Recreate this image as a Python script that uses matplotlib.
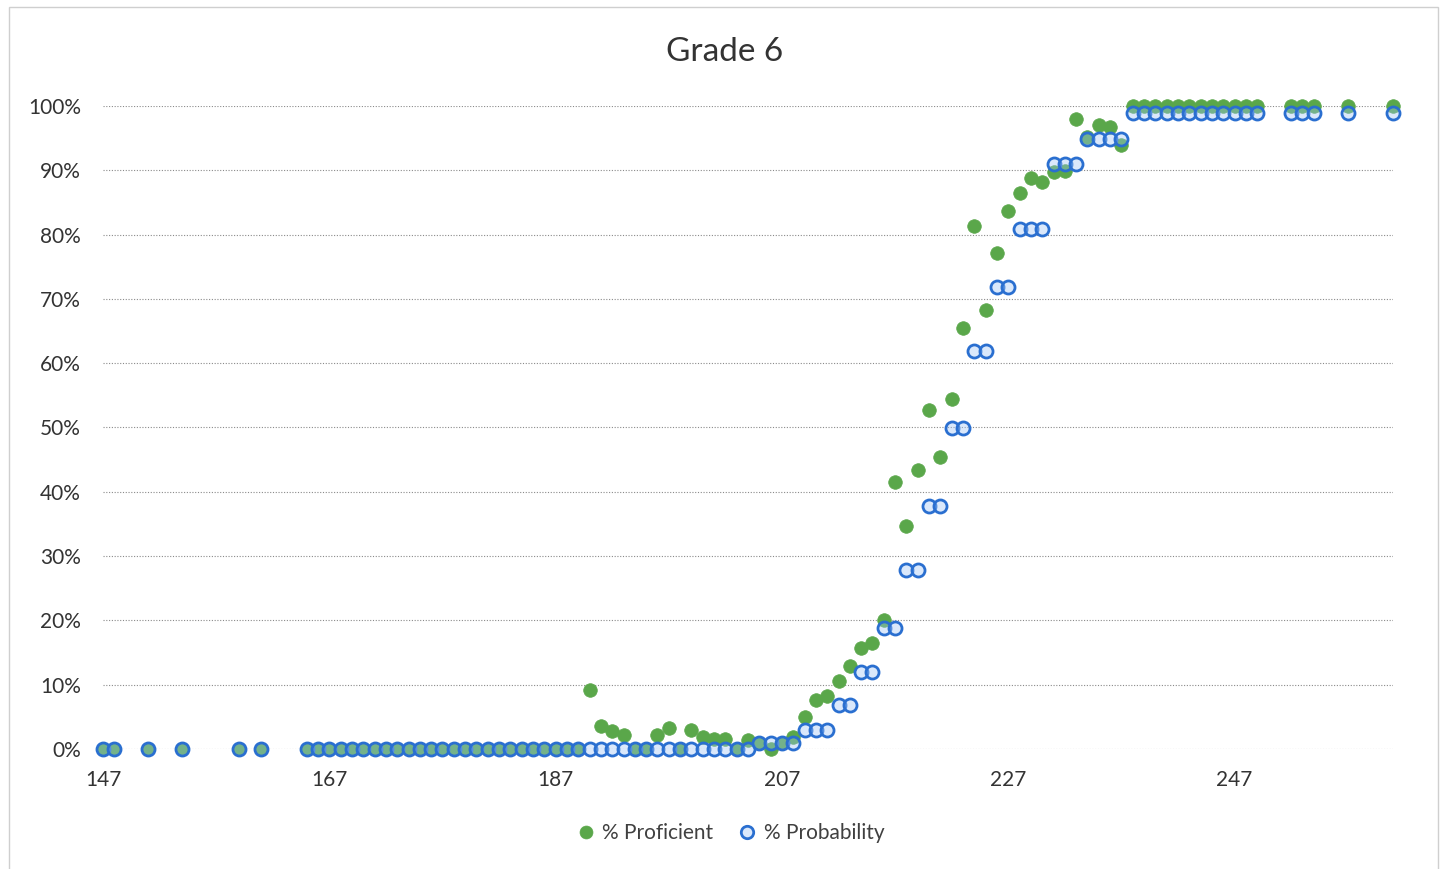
import matplotlib
matplotlib.use("Agg")
import matplotlib.pyplot as plt
from matplotlib.patches import Rectangle
from matplotlib.ticker import FuncFormatter, MultipleLocator

plt.rcParams['font.family'] = ['Lato', 'DejaVu Sans']

scores = [147, 148, 151, 154, 159, 161,
          165, 166, 167, 168, 169, 170, 171, 172, 173, 174, 175, 176, 177, 178, 179,
          180, 181, 182, 183, 184, 185, 186, 187, 188, 189,
          190, 191, 192, 193, 194, 195, 196, 197, 198, 199,
          200, 201, 202, 203, 204, 205, 206, 207, 208, 209,
          210, 211, 212, 213, 214, 215, 216, 217, 218, 219,
          220, 221, 222, 223, 224, 225, 226, 227, 228, 229,
          230, 231, 232, 233, 234, 235, 236, 237, 238, 239,
          240, 241, 242, 243, 244, 245, 246, 247, 248, 249,
          252, 253, 254, 257, 261]

pct_proficient = [0, 0, 0, 0, 0, 0,
                  0, 0, 0, 0, 0, 0, 0, 0, 0, 0, 0, 0, 0, 0, 0,
                  0, 0, 0, 0, 0, 0, 0, 0, 0, 0,
                  9.1, 3.6, 2.8, 2.2, 0, 0, 2.2, 3.3, 0, 2.9,
                  1.9, 1.5, 1.5, 0, 1.4, 1.0, 0, 0.9, 1.8, 5.0,
                  7.6, 8.3, 10.5, 12.9, 15.7, 16.5, 20.0, 41.6, 34.7, 43.4,
                  52.7, 45.4, 54.4, 65.4, 81.3, 68.3, 77.1, 83.7, 86.5, 88.8,
                  88.2, 89.8, 89.9, 98.0, 95.2, 97.0, 96.8, 94.0, 100, 100,
                  100, 100, 100, 100, 100, 100, 100, 100, 100, 100,
                  100, 100, 100, 100, 100]

pct_probability = [0, 0, 0, 0, 0, 0,
                   0, 0, 0, 0, 0, 0, 0, 0, 0, 0, 0, 0, 0, 0, 0,
                   0, 0, 0, 0, 0, 0, 0, 0, 0, 0,
                   0, 0, 0, 0, 0, 0, 0, 0, 0, 0,
                   0, 0, 0, 0, 0, 1.0, 1.0, 1.0, 1.0, 2.9,
                   2.9, 2.9, 6.9, 6.9, 11.9, 11.9, 18.8, 18.8, 27.8, 27.8,
                   37.8, 37.8, 49.9, 49.9, 61.9, 61.9, 71.9, 71.9, 80.9, 80.9,
                   80.9, 91.0, 91.0, 91.0, 94.9, 94.9, 94.9, 94.9, 98.9, 98.9,
                   98.9, 98.9, 98.9, 98.9, 98.9, 98.9, 98.9, 98.9, 98.9, 98.9,
                   98.9, 98.9, 98.9, 98.9, 98.9]

x_ticks = [147, 167, 187, 207, 227, 247]

W, H = 1449, 869
fig = plt.figure(figsize=(W / 100, H / 100), dpi=100)
fig.patch.set_facecolor('white')

ax = fig.add_axes([103 / W, 1 - 749 / H, (1393 - 103) / W, (749 - 106) / H])

green = '#5AA74A'
blue_edge = '#2A6FD0'
blue_face = (0.62, 0.77, 0.96, 0.38)

ax.plot(scores, [v / 100 for v in pct_proficient], linestyle='none', marker='o',
        markersize=9.8, markerfacecolor=green, markeredgecolor=green, markeredgewidth=0.5,
        clip_on=False, zorder=3, label='% Proficient')
ax.plot(scores, [v / 100 for v in pct_probability], linestyle='none', marker='o',
        markersize=9.4, markerfacecolor=blue_face, markeredgecolor=blue_edge, markeredgewidth=2.0,
        clip_on=False, zorder=4, label='% Probability')

ax.set_xlim(147, 261)
ax.set_ylim(0, 1)
ax.set_xticks(x_ticks)
ax.yaxis.set_major_locator(MultipleLocator(0.1))
ax.yaxis.set_major_formatter(FuncFormatter(lambda v, p: f"{round(v * 100)}%"))

for s in ax.spines.values():
    s.set_visible(False)
ax.grid(axis='y', color='#8a8a8a', linestyle=(0, (1, 1.5)), linewidth=0.8, zorder=0)
ax.set_axisbelow(True)
ax.tick_params(axis='both', length=0, labelsize=15, colors='#333333')
ax.tick_params(axis='y', pad=16)
ax.tick_params(axis='x', pad=15)

fig.text(725 / W, 1 - 52 / H, 'Grade 6', ha='center', va='center', fontsize=24, color='#333333')

leg = fig.legend(loc='center', bbox_to_anchor=(0.5, 1 - 833 / H), ncol=2, frameon=False,
                 fontsize=15, handletextpad=-0.2, columnspacing=0.6, markerscale=0.95,
                 labelcolor='#404040')

fig.add_artist(Rectangle((9 / W, -0.01), (1438 - 9) / W, 1 - 7 / H + 0.01,
                         transform=fig.transFigure, fill=False, edgecolor='#cfcfcf',
                         linewidth=1.0))

fig.savefig('out.png', dpi=100, facecolor='white')
